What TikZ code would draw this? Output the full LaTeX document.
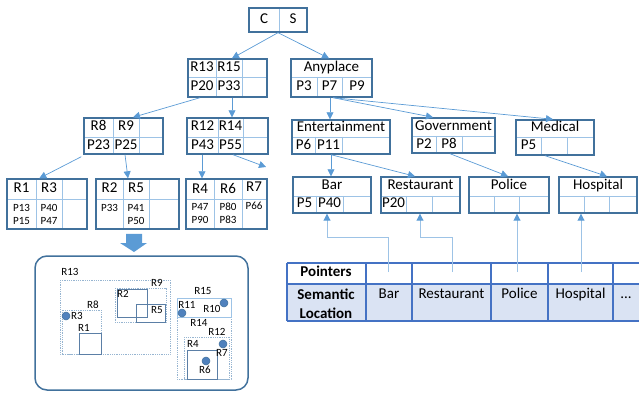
\documentclass[tikz,border=0pt]{standalone}
\usepackage{fontspec}
\setmainfont{Carlito}
\usetikzlibrary{arrows.meta,calc}

\definecolor{boxblue}{HTML}{41719C}
\definecolor{linkblue}{HTML}{5B9BD5}
\definecolor{paleblue}{HTML}{9DC3E6}
\definecolor{tabblue}{HTML}{4472C4}
\definecolor{tabfill}{HTML}{DAE3F3}
\definecolor{dotblue}{HTML}{4F81BD}
\definecolor{rectblue}{HTML}{5B7FA6}

\begin{document}
\begin{tikzpicture}[x=1pt,y=-1pt,
		box/.style={rectangle,draw=boxblue,line width=1.4pt,inner sep=0pt},
		cell/.style={draw=paleblue,line width=0.7pt},
		lbl/.style={font=\fontsize{15}{17}\selectfont,inner sep=0pt,text height=1.7ex,text depth=.25ex},
		small lbl/.style={font=\fontsize{11}{13}\selectfont,inner sep=0pt,text height=1.7ex,text depth=.25ex},
		link/.style={draw=linkblue,line width=0.7pt,-{Triangle[length=7pt,width=7pt]}},
		ptr/.style={draw=paleblue,line width=0.9pt,-{Triangle[length=7pt,width=7pt,color=linkblue]}},
		mbr/.style={draw=paleblue!80!gray,densely dotted,line width=0.8pt},
		obj/.style={draw=rectblue,line width=0.8pt},
		pt/.style={circle,fill=dotblue,draw=boxblue,line width=0.5pt,inner sep=0pt,minimum size=8pt}]
		\useasboundingbox (0,0) rectangle (639,395);
		
		% cell dividers
		\draw[cell] (279,8)--(279,32);
		\draw[cell] (188,77)--(267,77) (216,59)--(216,97) (242,59)--(242,97);
		\draw[cell] (291,77)--(372,77) (317,77)--(317,97) (342,77)--(342,97);
		\draw[cell] (84,137)--(163,137) (113,118)--(113,154) (139,118)--(139,154);
		\draw[cell] (187,137)--(268,137) (218,118)--(218,154) (243,118)--(243,154);
		\draw[cell] (7,199)--(87,199) (36,179)--(36,229) (62,179)--(62,229);
		\draw[cell] (96,199)--(179,199) (123,179)--(123,229) (149,179)--(149,229);
		\draw[cell] (186,199)--(267,199) (214,179)--(214,229) (242,179)--(242,229);
		\draw[cell] (292,137)--(390,137) (315,137)--(315,154) (342,137)--(342,154);
		\draw[cell] (412,136)--(495,136) (436,136)--(436,153) (462,136)--(462,153);
		\draw[cell] (516,137)--(594,137) (541,137)--(541,155) (567,137)--(567,155);
		\draw[cell] (293,196)--(371,196) (316,196)--(316,213) (343,196)--(343,213);
		\draw[cell] (381,196)--(460,196) (406,196)--(406,213) (432,196)--(432,213);
		\draw[cell] (469,196)--(549,196) (494,196)--(494,213) (519,196)--(519,213);
		\draw[cell] (559,196)--(637,196) (584,196)--(584,213) (609,196)--(609,213);
		
		% tree boxes
		\node[box,minimum width=58pt,minimum height=24pt] (root) at (278,20) {};
		\node[box,minimum width=79pt,minimum height=38pt] (n13) at (227.5,78) {};
		\node[box,minimum width=81pt,minimum height=38pt] (any) at (331.5,78) {};
		\node[box,minimum width=79pt,minimum height=36pt] (n8) at (123.5,136) {};
		\node[box,minimum width=81pt,minimum height=36pt] (n12) at (227.5,136) {};
		\node[box,minimum width=80pt,minimum height=50pt] (n1) at (47,204) {};
		\node[box,minimum width=83pt,minimum height=50pt] (n2) at (137.5,204) {};
		\node[box,minimum width=81pt,minimum height=50pt] (n4) at (226.5,204) {};
		\node[box,minimum width=98pt,minimum height=34pt] (ent) at (341,137) {};
		\node[box,minimum width=83pt,minimum height=35pt] (gov) at (453.5,135.5) {};
		\node[box,minimum width=78pt,minimum height=35pt] (med) at (555,137.5) {};
		\node[box,minimum width=78pt,minimum height=36pt] (bar) at (332,195) {};
		\node[box,minimum width=79pt,minimum height=36pt] (rest) at (420.5,195) {};
		\node[box,minimum width=80pt,minimum height=36pt] (pol) at (509,195) {};
		\node[box,minimum width=78pt,minimum height=36pt] (hosp) at (598,195) {};
		
		% cell texts
		\foreach \t/\x/\y [count=\i] in {C/264/20, S/293/20,
			R13/202/68, R15/229/68, P20/202/87, P33/229/87,
			Anyplace/331.5/68, P3/304/87, P7/329.5/87, P9/357/87,
			R8/98.5/127, R9/126/127, P23/98.5/146, P25/126/146,
			R12/202.5/127, R14/230.5/127, P43/202.5/146, P55/230.5/146,
			R1/21.5/189, R3/49/189, R2/109.5/189, R5/136/189,
			R4/200/190, R6/228/190, R7/254/188,
			Entertainment/341/128, P6/303.5/146, P11/328.5/146,
			Government/453.5/127, P2/424/145, P8/449/145,
			Medical/555/128, P5/528.5/146,
			Bar/332/186, P5/304.5/204, P40/329.5/204,
			Restaurant/420.5/186, P20/393.5/204,
			Police/509/186, Hospital/598/186}
		\node[lbl] (t\i) at (\x,\y) {\t};
		\foreach \t/\x/\y [count=\i] in {P13/21.5/208, P15/21.5/221, P40/49/208, P47/49/221,
			P33/109.5/208, P41/136/208, P50/136/221,
			P47/200/207, P90/200/220, P80/228/207, P83/228/220, P66/254/206}
		\node[small lbl] (s\i) at (\x,\y) {\t};
		
		% tree links
		\coordinate (r7end) at (266,167);
		\draw[link] (root.south) -- ([xshift=4.5pt]n13.north);
		\draw[link] (root.south) -- ([xshift=-2.5pt]any.north);
		\draw[link] ([xshift=-27.5pt]n13.south) -- ([xshift=9.5pt]n8.north);
		\draw[link] ([xshift=4.5pt]n13.south) -- ([xshift=4.5pt]n12.north);
		\draw[link] ([xshift=-2pt,yshift=-2pt]n8.south west) -- ([xshift=33pt]n1.north west);
		\draw[link] ([xshift=1.5pt]n8.south) -- ([xshift=-9.5pt]n2.north);
		\draw[link] ([xshift=-25.5pt]n12.south) -- ([xshift=-24.5pt]n4.north);
		\draw[link] ([xshift=5.5pt]n12.south) -- (r7end);
		\draw[link] ([xshift=-1.5pt]any.south) -- ([xshift=-11pt]ent.north);
		\draw[link] ([xshift=1.5pt]any.south) -- ([xshift=-20.5pt]gov.north);
		\draw[link] ([xshift=1.5pt]any.south) -- ([xshift=-2pt]med.north);
		\draw[link] ([xshift=-10pt]ent.south) -- ([xshift=-1pt]bar.north);
		\draw[link] ([xshift=-10pt]ent.south) -- ([xshift=-5.5pt]rest.north);
		\draw[link] ([xshift=-3.5pt]gov.south) -- ([xshift=-1pt]pol.north);
		\draw[link] ([xshift=-10pt]med.south) -- ([xshift=9pt]hosp.north);
		
		% lookup table
		\fill[tabfill] (287,284) rectangle (642,321);
		\draw[tabblue,line width=1.2pt] (287,263) -- (642,263) (287,284) -- (642,284) (287,321) -- (642,321);
		\foreach \x in {287,366,412,491,548,613}
		\draw[tabblue,line width=1.2pt] (\x,263) -- (\x,321);
		\node[lbl,font=\fontsize{15}{17}\selectfont\bfseries] (tptr) at (326,273) {Pointers};
		\node[lbl,font=\fontsize{15}{19}\selectfont\bfseries,align=center,text height=,text depth=] (tsem) at (326,303.5) {Semantic\\Location};
		\node[lbl] (tbar) at (389,295) {Bar};
		\node[lbl] (trest) at (451.5,295) {Restaurant};
		\node[lbl] (tpol) at (519.5,295) {Police};
		\node[lbl] (thosp) at (580.5,295) {Hospital};
		\node[lbl] (tmore) at (626,295) {...};
		
		% pointers
		\coordinate (pbar) at (388,272);
		\coordinate (prest) at (452,272);
		\coordinate (ppol) at (517,272);
		\coordinate (phosp) at (581,272);
		\draw[ptr] (pbar) -- ++(0,-35) -| ([xshift=-5pt]bar.south);
		\draw[ptr] (prest) -- ++(0,-35) -| ([xshift=-0.5pt]rest.south);
		\draw[ptr] (ppol) -- (ppol |- pol.south);
		\draw[ptr] (phosp) -- (phosp |- hosp.south);
		
		% space view
		\fill[linkblue] (126,234) -- (142,234) -- (142,243) -- (147,243) -- (134,252) -- (120,243) -- (126,243) -- cycle;
		\draw[boxblue,line width=1.5pt,rounded corners=12pt] (35,256) rectangle (248,390);
		\draw[mbr] (60,280) rectangle (170,354);
		\draw[mbr] (115,288) rectangle (166,322);
		\draw[mbr] (62,310) rectangle (101,354);
		\draw[mbr] (177,298) rectangle (231,379);
		\draw[mbr] (184,337) rectangle (229,379);
		\draw[obj] (117,289) rectangle (147,317);
		\draw[obj] (136,304) rectangle (165,322);
		\draw[obj] (79,333) rectangle (101,354);
		\draw[obj,draw=paleblue] (177,298) rectangle (231,317);
		\draw[obj] (187,350) rectangle (217,379);
		\foreach \t/\x/\y [count=\i] in {R13/70/272, R9/157/283, R2/123/294, R5/157/310,
			R8/93/305, R1/84/328, R3/77/316, R15/203/291, R11/187/305, R10/212/309,
			R14/199/323, R12/217/332, R4/193/344, R7/222/353, R6/205/370}
		\node[small lbl] (m\i) at (\x,\y) {\t};
		\foreach \x/\y [count=\i] in {66/316, 224/303, 182/313, 223/344, 206/361}
		\node[pt] (d\i) at (\x,\y) {};
\end{tikzpicture}
\end{document}
